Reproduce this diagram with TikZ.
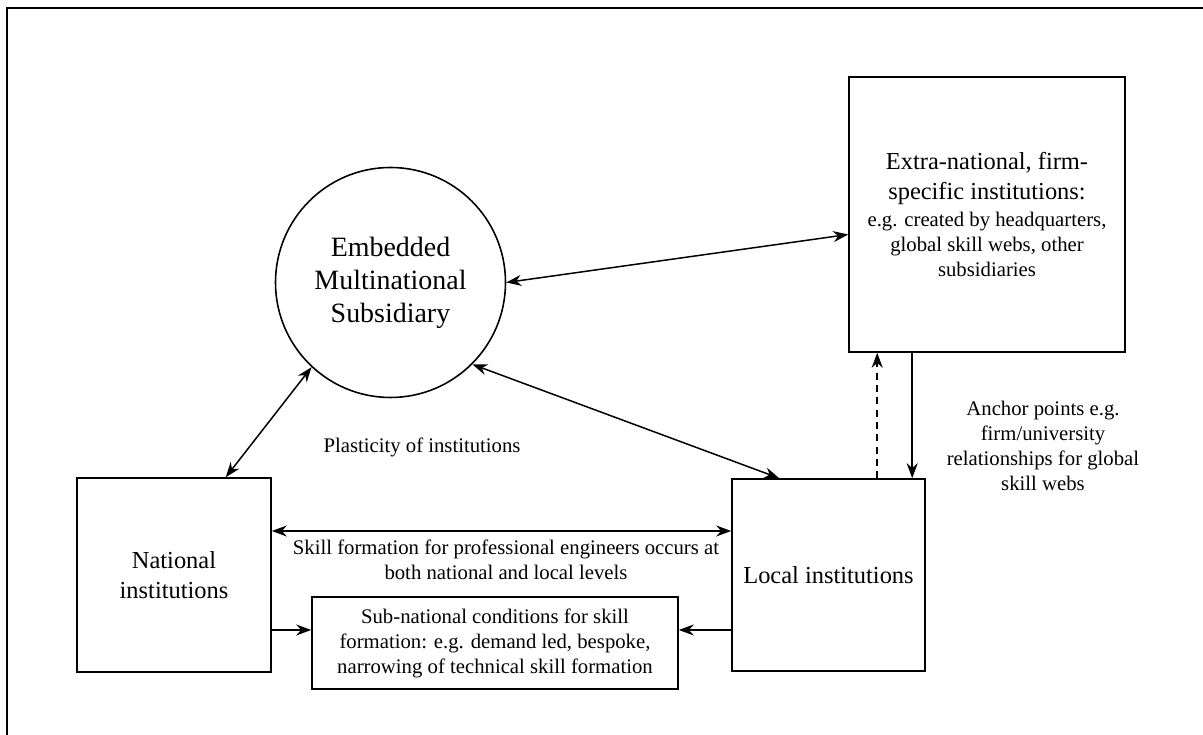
\documentclass[tikz,border=0pt]{standalone}
\usepackage{fontspec}
\setmainfont{Liberation Serif}
\usetikzlibrary{arrows.meta}
\newcommand{\smalltxt}{\fontsize{11.8pt}{14.2pt}\selectfont}
\newcommand{\bigtxt}{\fontsize{13.9pt}{17pt}\selectfont}
\newcommand{\circtxt}{\fontsize{15.9pt}{18.8pt}\selectfont}
\tikzset{
  inst/.style={draw, line width=0.9pt, align=center, inner sep=0pt},
  link/.style={line width=0.85pt, {Stealth[length=0.3cm,width=0.22cm]}-{Stealth[length=0.3cm,width=0.22cm]}},
  onelink/.style={line width=0.85pt, -{Stealth[length=0.3cm,width=0.22cm]}}
}
\begin{document}
\begin{tikzpicture}
      \useasboundingbox (0,0) rectangle (24.06,14.7);
      \draw[line width=1.1pt] (0.14,0) -- (0.14,14.54) -- (24.06,14.54);
      % the five institutions
      \node[inst, circle, minimum size=4.6cm, font=\circtxt] (emb) at (7.81,9.05) {Embedded\\ Multinational\\ Subsidiary};
      \node[inst, minimum width=5.52cm, minimum height=5.5cm, font=\smalltxt] (extra) at (19.74,10.41) {\bigtxt Extra-national, firm-\\[0.1cm] \bigtxt specific institutions:\\[0.04cm] e.g. created by headquarters,\\ global skill webs, other\\ subsidiaries};
      \node[inst, minimum size=3.88cm, font=\bigtxt] (nat) at (3.48,3.2) {National\\ institutions};
      \node[inst, minimum width=3.86cm, minimum height=3.84cm, font=\bigtxt] (loc) at (16.57,3.2) {Local institutions};
      \node[inst, minimum width=7.32cm, minimum height=1.84cm, font=\smalltxt] (sub) at (9.9,1.84) {Sub-national conditions for skill\\ formation: e.g. demand led, bespoke,\\ narrowing of technical skill formation};
      % free labels
      \node[font=\smalltxt, align=center] (skill) at (10.12,3.51) {Skill formation for professional engineers occurs at\\ both national and local levels};
      \node[font=\smalltxt] (plast) at (8.44,5.76) {Plasticity of institutions};
      \node[font=\smalltxt, align=center] (anchor) at (20.86,5.79) {Anchor points e.g.\\ firm/university\\ relationships for global\\ skill webs};
      % links
      \draw[link] (emb.east) -- ([yshift=-0.4cm]extra.west);
      \draw[link] (emb.227) -- ([xshift=-0.92cm]nat.north east);
      \draw[link] (emb.-45) -- ([xshift=0.96cm]loc.north west);
      \draw[link] ([yshift=0.88cm]nat.east) -- ([yshift=0.88cm]loc.west);
      \draw[onelink] ([yshift=-1.1cm]nat.east) -- ([yshift=-1.1cm]nat.east -| sub.west);
      \draw[onelink] ([yshift=-1.1cm]loc.west) -- ([yshift=-1.1cm]loc.west -| sub.east);
      \draw[onelink] ([xshift=1.28cm]extra.south west) -- ([xshift=1.28cm]extra.south west |- loc.north);
      \draw[onelink, dash pattern=on 4pt off 3pt] ([xshift=0.58cm]extra.south west |- loc.north) -- ([xshift=0.58cm]extra.south west);
\end{tikzpicture}
\end{document}
